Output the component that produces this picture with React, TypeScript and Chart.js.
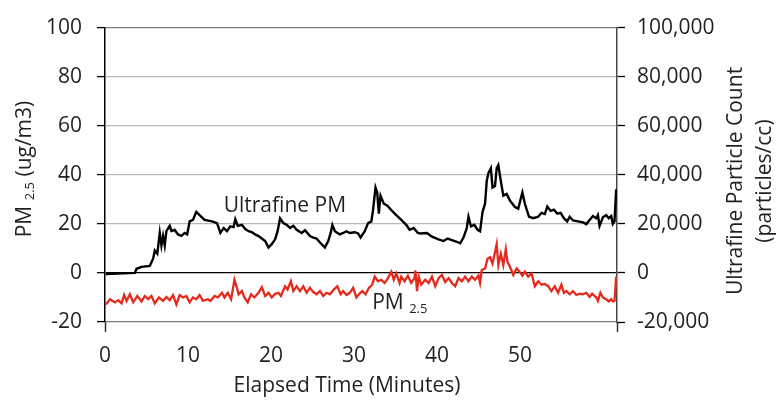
import React, { useEffect, useRef } from "react";
import { Chart, registerables } from "chart.js";

Chart.register(...registerables);

// Ultrafine particle count (particles/cc) against elapsed minutes
const ufTime = [
  0.1, 3.6, 3.8, 4.4, 5.4, 5.8, 6.0, 6.3, 6.6, 6.8, 7.0, 7.2, 7.4, 7.8, 8.0, 8.4, 8.8, 9.2, 9.6, 9.9,
  10.2, 10.6, 11.0, 11.4, 12.0, 12.9, 13.5, 13.9, 14.3, 14.7, 15.1, 15.5, 15.7, 16.0, 16.5, 16.9, 17.3, 17.7, 18.1, 18.5,
  18.9, 19.3, 19.7, 20.1, 20.5, 20.8, 21.1, 21.5, 21.9, 22.3, 22.7, 23.1, 23.7, 24.1, 24.7, 25.1, 25.5, 26.1, 26.5, 26.9,
  27.2, 27.4, 27.7, 28.3, 28.7, 29.1, 29.5, 30.1, 30.5, 30.8, 31.3, 31.7, 32.1, 32.3, 32.6, 32.8, 33.0, 33.2, 33.6, 34.0,
  34.5, 35.1, 35.7, 36.3, 36.7, 37.2, 37.7, 38.0, 38.8, 39.4, 40.2, 40.8, 41.3, 41.8, 42.4, 42.8, 43.2, 43.6, 43.8, 44.1,
  44.5, 44.9, 45.2, 45.5, 45.8, 46.0, 46.2, 46.5, 46.7, 47.0, 47.2, 47.4, 47.7, 48.0, 48.4, 48.8, 49.4, 49.8, 50.3, 50.6,
  51.1, 51.6, 52.2, 52.6, 53.0, 53.3, 53.7, 54.1, 54.5, 54.9, 55.3, 55.7, 56.0, 56.4, 57.0, 57.6, 58.0, 58.4, 58.8, 59.2,
  59.4, 59.6, 60.0, 60.4, 60.7, 61.0, 61.2, 61.4, 61.6,
];
const ufCount = [
  -500, 0, 1700, 2500, 2900, 5800, 9100, 7800, 16300, 11200, 15100, 11200, 17000, 19200, 17100, 17500, 15700, 15100, 16300, 15700,
  21000, 21600, 24900, 23600, 21600, 21000, 20300, 16300, 18300, 17000, 19000, 18700, 21900, 19200, 19600, 17900, 17000, 16600, 15700, 15000,
  14000, 13000, 10400, 11700, 13700, 17000, 22300, 20300, 19600, 18300, 19200, 17600, 16300, 17400, 15000, 14400, 14000, 11700, 10400, 13000,
  16300, 19600, 17000, 15700, 16300, 17000, 16300, 16600, 16100, 14400, 17000, 20300, 21000, 25600, 34800, 32800, 24200, 31500, 28200, 27500,
  25600, 23600, 21600, 19600, 17600, 18300, 16300, 16100, 16300, 14800, 13700, 13000, 14000, 13400, 12700, 12100, 14400, 18300, 22900, 19000,
  19600, 17600, 17000, 24900, 28200, 37400, 40700, 42700, 34800, 35400, 42700, 44000, 37400, 31500, 32200, 29500, 26900, 26200, 32800, 28200,
  22900, 22300, 22900, 24500, 24000, 27100, 25300, 25800, 24200, 24500, 22300, 21000, 22900, 21400, 21000, 20600, 19900, 21600, 23200, 22300,
  23600, 19200, 22700, 23600, 22300, 23200, 20000, 21000, 34100,
];

// PM2.5 (ug/m3) against elapsed minutes
const pmTime = [
  0.1, 0.6, 1.2, 1.6, 2.0, 2.3, 2.6, 3.0, 3.4, 3.9, 4.4, 4.8, 5.2, 5.6, 6.0, 6.5, 7.0, 7.4, 7.8, 8.2,
  8.6, 9.0, 9.4, 9.8, 10.2, 10.6, 11.0, 11.4, 11.8, 12.4, 12.7, 13.2, 13.6, 14.1, 14.4, 14.8, 15.2, 15.6, 15.9, 16.1,
  16.5, 16.8, 17.2, 17.6, 18.0, 18.5, 18.9, 19.3, 19.7, 20.1, 20.5, 20.9, 21.2, 21.7, 22.0, 22.4, 22.7, 23.1, 23.5, 23.9,
  24.3, 24.7, 25.1, 25.5, 25.9, 26.3, 26.7, 27.1, 27.6, 28.0, 28.4, 28.7, 29.1, 29.5, 29.9, 30.3, 30.6, 31.0, 31.4, 31.8,
  32.2, 32.5, 32.9, 33.3, 33.7, 34.1, 34.5, 34.8, 35.1, 35.5, 35.7, 36.1, 36.5, 36.9, 37.3, 37.4, 37.6, 37.8, 38.1, 38.6,
  39.0, 39.4, 39.8, 40.2, 40.6, 41.0, 41.4, 41.8, 42.2, 42.6, 43.0, 43.4, 43.8, 44.2, 44.6, 45.0, 45.2, 45.4, 45.8, 46.1,
  46.4, 46.7, 47.0, 47.2, 47.4, 47.7, 48.0, 48.3, 48.5, 48.8, 49.2, 49.6, 50.0, 50.3, 50.6, 51.0, 51.4, 51.8, 52.2, 52.6,
  53.0, 53.4, 53.8, 54.2, 54.6, 55.0, 55.3, 55.6, 56.0, 56.4, 56.8, 57.2, 57.6, 58.0, 58.4, 58.7, 59.2, 59.4, 59.7, 60.0,
  60.4, 60.7, 61.0, 61.2, 61.4, 61.6,
];
const pm25 = [
  -12.9, -10.7, -12.0, -11.1, -12.4, -9.0, -11.4, -8.7, -12.0, -9.4, -11.6, -9.4, -10.7, -9.4, -12.4, -10.0, -11.4, -9.8, -11.1, -9.0,
  -12.9, -9.0, -10.0, -9.4, -12.0, -10.0, -10.7, -9.0, -11.4, -10.7, -11.4, -9.4, -10.0, -8.1, -10.0, -8.1, -10.7, -2.8, -6.1, -8.7,
  -7.4, -10.0, -12.0, -8.7, -10.0, -8.1, -5.8, -9.4, -8.1, -10.0, -8.5, -8.1, -9.4, -5.4, -6.7, -3.4, -7.4, -5.4, -7.4, -5.4,
  -8.1, -6.0, -7.8, -8.7, -7.4, -9.4, -8.1, -8.7, -6.7, -5.4, -8.7, -7.4, -9.0, -8.1, -6.1, -10.0, -8.7, -7.4, -8.7, -6.1,
  -4.8, -1.5, -3.4, -2.8, -4.1, -2.1, 0.5, -2.8, -0.2, -4.1, -1.5, -3.4, -1.1, -4.1, -2.1, 1.0, -7.4, -1.5, -4.8, -2.8,
  -4.1, -1.5, -5.4, -2.1, -0.8, -3.7, -2.1, -4.1, -5.4, -2.1, -3.4, -1.5, -3.4, -1.5, -2.8, -1.1, -4.1, 1.2, 1.8, 5.8,
  6.4, 3.8, 8.4, 11.7, 3.2, 7.8, 3.2, 9.7, 4.5, 2.5, -0.8, 1.8, 0.3, -1.1, 0.5, -1.5, -0.2, -5.4, -3.4, -4.8,
  -4.5, -5.4, -7.4, -5.4, -8.1, -4.8, -8.1, -7.4, -8.7, -7.4, -9.0, -8.5, -8.7, -8.1, -9.8, -8.5, -10.0, -11.4, -8.1, -10.0,
  -10.7, -11.6, -10.7, -11.6, -11.4, -1.5,
];

const xTickValues = [0, 10, 20, 30, 40, 50];
const xMax = 61.7;

const FONT = "'Open Sans', 'DejaVu Sans', sans-serif";
const INK = "#231f20";
const SIZE = 21;

type Run = { text: string; size: number; drop: number };

// Draws text pieces in sequence, where some pieces are smaller and lowered (subscripts)
function drawRuns(ctx: CanvasRenderingContext2D, runs: Run[], startX: number, baseY: number) {
  let x = startX;
  for (const r of runs) {
    ctx.font = `${r.size}px ${FONT}`;
    ctx.fillText(r.text, x, baseY + r.drop);
    x += ctx.measureText(r.text).width;
  }
  return x;
}
function runsWidth(ctx: CanvasRenderingContext2D, runs: Run[]) {
  let w = 0;
  for (const r of runs) {
    ctx.font = `${r.size}px ${FONT}`;
    w += ctx.measureText(r.text).width;
  }
  return w;
}

const titlesPlugin = {
  id: "titles",
  afterDraw(chart: any) {
    const { ctx, scales } = chart;
    const xs = scales.x;
    const ys = scales.y;
    const area = chart.chartArea;
    ctx.save();
    ctx.fillStyle = INK;
    ctx.textBaseline = "alphabetic";
    ctx.textAlign = "left";

    // left axis title with subscript
    const leftRuns: Run[] = [
      { text: "PM ", size: SIZE, drop: 0 },
      { text: "2.5", size: 13, drop: 3 },
      { text: " (ug/m3)", size: SIZE, drop: 0 },
    ];
    const lw = runsWidth(ctx, leftRuns);
    ctx.save();
    ctx.translate(31, 169);
    ctx.rotate(-Math.PI / 2);
    drawRuns(ctx, leftRuns, -lw / 2, 0);
    ctx.restore();

    // right axis title, two lines
    ctx.save();
    ctx.font = `${SIZE}px ${FONT}`;
    ctx.textAlign = "center";
    ctx.translate(742, 181);
    ctx.rotate(-Math.PI / 2);
    ctx.fillText("Ultrafine Particle Count", 0, 0);
    ctx.fillText("(particles/cc)", 0, 29);
    ctx.restore();

    // x axis title
    ctx.font = `${SIZE}px ${FONT}`;
    ctx.textAlign = "center";
    ctx.fillText("Elapsed Time (Minutes)", 347, 392);

    // series labels
    ctx.textAlign = "left";
    ctx.font = `${SIZE}px ${FONT}`;
    ctx.fillText("Ultrafine PM", xs.getPixelForValue(14.3), ys.getPixelForValue(25));
    drawRuns(
      ctx,
      [
        { text: "PM ", size: SIZE, drop: 0 },
        { text: "2.5", size: 13, drop: 4 },
      ],
      xs.getPixelForValue(32.2),
      ys.getPixelForValue(-14.6)
    );
    ctx.restore();
  },
};

function gridColor(v: number) {
  if (v === 0) return "#000000";
  if (v === 100 || v === -20) return "#7d7d7d";
  return "#b8b8b8";
}

export default function App() {
  const ref = useRef<HTMLCanvasElement | null>(null);

  useEffect(() => {
    if (!ref.current) return;
    const chart = new Chart(ref.current, {
      type: "line",
      data: {
        datasets: [
          {
            label: "Ultrafine PM",
            data: ufTime.map((t, i) => ({ x: t, y: ufCount[i] })),
            yAxisID: "y1",
            borderColor: "#000000",
            borderWidth: 2.4,
            pointRadius: 0,
            tension: 0,
          },
          {
            label: "PM 2.5",
            data: pmTime.map((t, i) => ({ x: t, y: pm25[i] })),
            yAxisID: "y",
            borderColor: "#e5291c",
            borderWidth: 2.3,
            pointRadius: 0,
            tension: 0,
          },
        ],
      },
      options: {
        animation: false,
        responsive: false,
        maintainAspectRatio: false,
        layout: { padding: { top: 18, left: 0, right: 0, bottom: 0 } },
        plugins: { legend: { display: false }, tooltip: { enabled: false } },
        scales: {
          x: {
            type: "linear",
            min: 0,
            max: xMax,
            afterBuildTicks: (s: any) => {
              s.ticks = [...xTickValues, xMax].map((v) => ({ value: v }));
            },
            afterFit: (s: any) => {
              s.height = 80;
            },
            ticks: {
              autoSkip: false,
              maxRotation: 0,
              padding: 11,
              color: INK,
              font: { family: FONT, size: SIZE },
              callback: (v: any) => (v > 60 ? "" : String(v)),
            },
            grid: {
              drawOnChartArea: false,
              drawTicks: true,
              tickLength: 10,
              tickColor: (c: any) => (c.tick && (c.tick.value === 0 || c.tick.value > 60) ? "#333333" : "rgba(0,0,0,0)"),
              tickWidth: 1.5,
            },
            border: { display: false },
          },
          y: {
            position: "left",
            min: -20,
            max: 100,
            afterBuildTicks: (s: any) => {
              s.ticks = [-20, 0, 20, 40, 60, 80, 100].map((v) => ({ value: v }));
            },
            afterFit: (s: any) => {
              s.width = 105;
            },
            ticks: {
              padding: 15,
              color: INK,
              font: { family: FONT, size: SIZE },
            },
            grid: {
              color: (c: any) => gridColor(c.tick ? c.tick.value : NaN),
              lineWidth: (c: any) => (c.tick && c.tick.value === 0 ? 1.3 : 1.2),
              tickColor: "#000000",
              tickLength: 8,
              tickWidth: 1.3,
            },
            border: { color: "#000000", width: 1.5 },
          },
          y1: {
            position: "right",
            min: -20000,
            max: 100000,
            afterBuildTicks: (s: any) => {
              s.ticks = [-20000, 0, 20000, 40000, 60000, 80000, 100000].map((v) => ({ value: v }));
            },
            afterFit: (s: any) => {
              s.width = 776 - 617;
            },
            ticks: {
              padding: 12,
              color: INK,
              font: { family: FONT, size: SIZE },
              callback: (v: any) => Number(v).toLocaleString("en-US"),
            },
            grid: {
              drawOnChartArea: false,
              tickColor: "#000000",
              tickLength: 8,
              tickWidth: 1.3,
            },
            border: { color: "#4a4a4a", width: 1.5 },
          },
        },
      },
      plugins: [titlesPlugin],
    });
    return () => chart.destroy();
  }, []);

  return (
    <div style={{ position: "fixed", left: 0, top: 0, width: 776, height: 402, background: "#ffffff" }}>
      <canvas ref={ref} width={776} height={402} style={{ display: "block" }} />
    </div>
  );
}
